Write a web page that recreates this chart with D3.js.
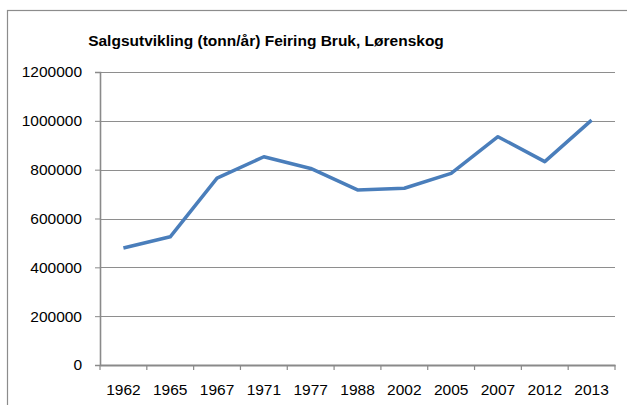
<!DOCTYPE html>
<html>
<head>
<meta charset="utf-8">
<script src="https://cdn.jsdelivr.net/npm/d3@7"></script>
<style>
  html, body { margin: 0; padding: 0; background: #fff; }
  svg { display: block; }
  text { font-family: "Liberation Sans", Arial, sans-serif; }
</style>
</head>
<body>
<div id="chart"></div>
<script>
// Salgsutvikling line chart

const years = ['1962', '1965', '1967', '1971', '1977', '1988', '2002', '2005', '2007', '2012', '2013'];
const sales = [479000, 525000, 765000, 853000, 805000, 717000, 724000, 785000, 935000, 833000, 1003000];
const yTicks = [0, 200000, 400000, 600000, 800000, 1000000, 1200000];

const W = 627, H = 405;
const plot = { left: 100, right: 615, top: 72, bottom: 365 };

const svg = d3.select('#chart').append('svg')
    .attr('width', W)
    .attr('height', H);

// chart frame
svg.append('rect')
    .attr('x', 7.5)
    .attr('y', 10.5)
    .attr('width', W)
    .attr('height', H)
    .attr('fill', '#fff')
    .attr('stroke', '#8c8c8c')
    .attr('stroke-width', 1.2);

// Title
svg.append('text')
    .attr('x', 266)
    .attr('y', 46)
    .attr('text-anchor', 'middle')
    .attr('font-weight', 'bold')
    .attr('font-size', '15.5px')
    .attr('fill', '#000')
    .text('Salgsutvikling (tonn/år) Feiring Bruk, Lørenskog');

// Scales
const x = d3.scaleBand()
    .domain(years)
    .range([plot.left, plot.right]);

const y = d3.scaleLinear()
    .domain([0, 1200000])
    .range([plot.bottom, plot.top]);

// Grid lines
svg.append('g')
    .selectAll('line')
    .data(yTicks.slice(1))
    .enter()
    .append('line')
    .attr('x1', plot.left)
    .attr('x2', plot.right)
    .attr('y1', d => Math.round(y(d)) + 0.5)
    .attr('y2', d => Math.round(y(d)) + 0.5)
    .attr('stroke', '#8e8e8e')
    .attr('stroke-width', 1);

// Y axis
const yAxis = svg.append('g')
    .attr('transform', `translate(${plot.left},0)`)
    .call(d3.axisLeft(y)
        .tickValues(yTicks)
        .tickSize(5)
        .tickPadding(13)
        .tickFormat(d3.format('d')));

yAxis.select('.domain')
    .attr('stroke', '#8a8a8a')
    .attr('stroke-width', 1.6);
yAxis.selectAll('.tick line').attr('stroke', '#8a8a8a');
yAxis.selectAll('.tick text')
    .attr('font-size', '15.5px')
    .attr('fill', '#000');

// X axis (ticks between categories)
const xAxis = svg.append('g')
    .attr('transform', `translate(0,${plot.bottom})`)
    .call(d3.axisBottom(x).tickSize(0).tickPadding(19));

xAxis.select('.domain')
    .attr('stroke', '#8a8a8a')
    .attr('stroke-width', 2.2);
xAxis.selectAll('.tick text')
    .attr('font-size', '15.5px')
    .attr('fill', '#000');

xAxis.selectAll('.sep')
    .data(d3.range(years.length + 1))
    .enter()
    .append('line')
    .attr('class', 'sep')
    .attr('x1', i => plot.left + i * x.step())
    .attr('x2', i => plot.left + i * x.step())
    .attr('y1', 0)
    .attr('y2', 5)
    .attr('stroke', '#8a8a8a')
    .attr('stroke-width', 1.2);

// Line
const line = d3.line()
    .x((d, i) => x(years[i]) + x.bandwidth() / 2)
    .y(d => y(d));

svg.append('path')
    .datum(sales)
    .attr('fill', 'none')
    .attr('stroke', '#4a7ebb')
    .attr('stroke-width', 3.5)
    .attr('stroke-linejoin', 'round')
    .attr('d', line);
</script>
</body>
</html>
